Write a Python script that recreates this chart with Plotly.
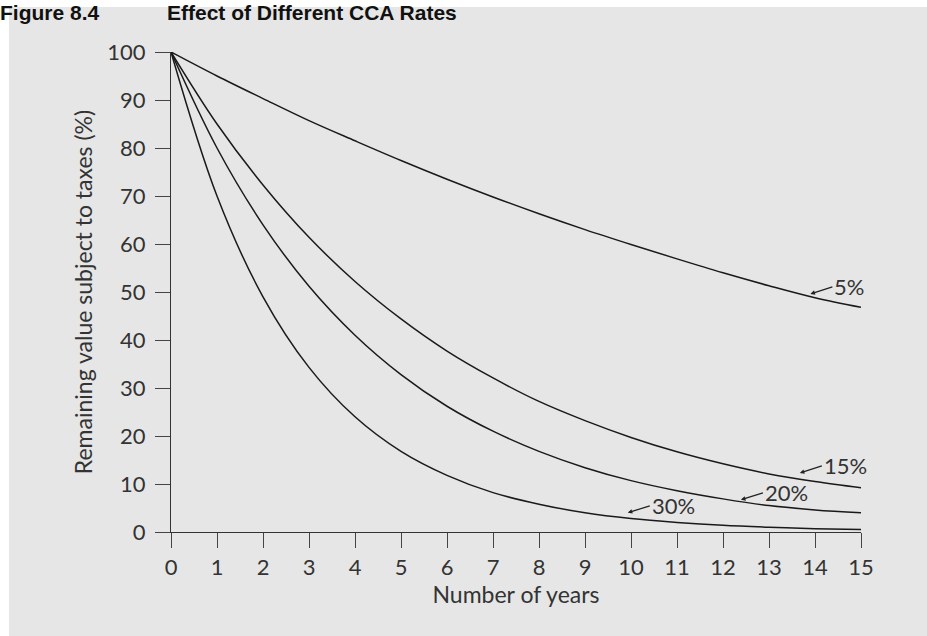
import plotly.graph_objects as go

# Remaining value (%) at each year, for each CCA rate
years = list(range(16))
rate_5 = [100, 95, 90.3, 85.7, 81.5, 77.4, 73.5, 69.8, 66.3, 63, 59.9, 56.9, 54, 51.3, 48.8, 46.8]
rate_15 = [100, 85, 72.3, 61.4, 52.2, 44.4, 37.7, 32.1, 27.2, 23.2, 19.7, 16.7, 14.2, 12.1, 10.5, 9.2]
rate_20 = [100, 80, 64, 51.2, 41, 32.8, 26.2, 21, 16.8, 13.4, 10.7, 8.6, 6.9, 5.5, 4.6, 4.0]
rate_30 = [100, 70, 49, 34.3, 24, 16.8, 11.8, 8.2, 5.8, 4, 2.8, 2, 1.4, 1, 0.7, 0.5]

series = [("5%", rate_5), ("15%", rate_15), ("20%", rate_20), ("30%", rate_30)]

# label text, arrow tip (x, y) on the curve
labels = [
    ("5%", 13.9, 49.6),
    ("15%", 13.67, 12.3),
    ("20%", 12.39, 6.7),
    ("30%", 9.93, 4.0),
]

FONT = "Lato, 'Open Sans', sans-serif"
TITLE_FONT = "'Liberation Sans Narrow', 'Liberation Sans', sans-serif"
TXT = "#333333"

W, H = 927, 636
L, R, T, B = 171, 66, 52, 104
pw, ph = W - L - R, H - T - B


def px_x(x):
    # page pixel -> paper x
    return (x - L) / pw


def px_y(y):
    # page pixel (from top) -> paper y
    return (H - B - y) / ph


fig = go.Figure()

for name, vals in series:
    fig.add_trace(go.Scatter(
        x=years, y=vals, name=name, mode="lines",
        line=dict(color="#1a1a1a", width=1.5, shape="spline", smoothing=1.0),
        hoverinfo="x+y+name",
    ))

for text, tx, ty in labels:
    fig.add_annotation(
        x=tx, y=ty, xref="x", yref="y", text=text,
        showarrow=True, arrowhead=2, arrowsize=0.7, arrowwidth=1.3, arrowcolor="#222",
        ax=22, ay=-7, xanchor="left", yanchor="middle",
        font=dict(family=FONT, size=22, color=TXT),
    )

# grey panel behind the chart
fig.add_shape(type="rect", xref="paper", yref="paper", layer="below",
              x0=px_x(9), x1=px_x(W + 5), y0=px_y(H + 5), y1=px_y(7),
              fillcolor="#e6e6e6", line=dict(width=0))

# figure caption along the top edge
fig.add_annotation(
    text="<b>Figure 8.4</b>", xref="paper", yref="paper", x=px_x(-2), y=px_y(-1),
    xanchor="left", yanchor="top", showarrow=False,
    font=dict(family=TITLE_FONT, size=21, color="#111"),
)
fig.add_annotation(
    text="<b>Effect of Different CCA Rates</b>", xref="paper", yref="paper", x=px_x(165), y=px_y(-1),
    xanchor="left", yanchor="top", showarrow=False,
    font=dict(family=TITLE_FONT, size=21, color="#111"),
)

axis_common = dict(
    showgrid=False, zeroline=False, showline=True, linecolor="#333", linewidth=1.3,
    ticks="outside", ticklen=15, tickwidth=1.3, tickcolor="#444",
    tickfont=dict(family=FONT, size=22, color=TXT),
)

fig.update_xaxes(
    range=[0, 15], tickmode="array", tickvals=list(range(16)),
    title=dict(text="Number of years", font=dict(family=FONT, size=23, color=TXT), standoff=4),
    **axis_common,
)
fig.update_yaxes(
    range=[0, 100], tickmode="array", tickvals=list(range(0, 101, 10)),
    ticklabelstandoff=5,
    title=dict(text="Remaining value subject to taxes (%)", font=dict(family=FONT, size=23, color=TXT), standoff=8),
    **axis_common,
)

fig.update_layout(
    width=W, height=H,
    margin=dict(l=L, r=R, t=T, b=B),
    paper_bgcolor="white", plot_bgcolor="rgba(0,0,0,0)",
    showlegend=False,
    font=dict(family=FONT, color=TXT),
)

# drop the default page margin so the figure fills the window
fig.write_html("out.html", config={"displayModeBar": False},
               post_script="document.body.style.margin='0';")
